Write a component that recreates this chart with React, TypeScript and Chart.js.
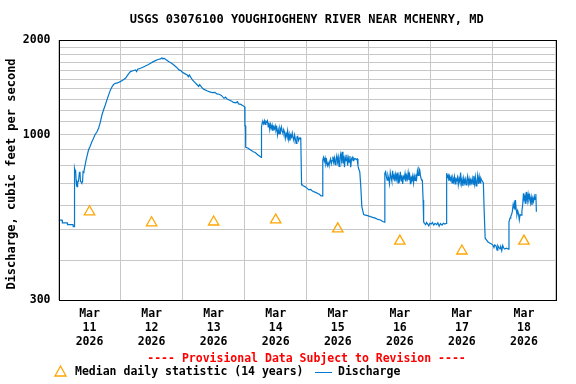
import React, { useEffect, useRef } from "react";
import { Chart, registerables } from "chart.js";

Chart.register(...registerables);

// ---- data ----
const titleText = "USGS 03076100 YOUGHIOGHENY RIVER NEAR MCHENRY, MD";
const yAxisTitle = "Discharge, cubic feet per second";
const provisionalText = "---- Provisional Data Subject to Revision ----";
const medianLabel = "Median daily statistic (14 years)";
const dischargeLabel = "Discharge";

const tickMonth = "Mar";
const tickYear = "2026";
const tickDays = ["11", "12", "13", "14", "15", "16", "17", "18"];

const yGridValues = [300, 400, 500, 600, 700, 800, 900, 1000, 1100, 1200, 1300, 1400, 1500, 1600, 1700, 1800, 1900, 2000];
const yLabeled = [300, 1000, 2000];

// median daily statistic at noon of each day (hours since Mar 11 00:00)
const medianHours = [12, 36, 60, 84, 108, 132, 156, 180];
const medianCfs = [571, 527, 530, 538, 504, 461, 429, 461];

// discharge: [hours since Mar 11 00:00, cfs]
const discharge: [number, number][] = [
  [0, 537], [1.4, 537], [1.5, 527], [3.4, 527], [3.5, 520], [5.6, 520], [5.7, 512], [6.1, 512],
  [6.2, 784], [6.4, 770], [6.6, 776], [6.8, 722], [7.0, 690], [7.2, 686], [7.4, 711], [7.7, 711], [7.9, 711],
  [8.1, 761], [8.3, 765], [8.5, 711], [8.8, 711], [9.0, 706], [9.3, 711], [9.5, 765], [9.8, 762], [10.1, 790],
  [10.3, 803], [10.7, 835], [11.2, 868], [11.6, 896], [12.2, 920], [12.9, 952], [13.5, 975], [14.2, 1005],
  [14.8, 1020], [15.5, 1050], [16.2, 1100], [16.8, 1157], [17.4, 1200], [18.1, 1245], [18.7, 1290], [19.4, 1340],
  [20.0, 1385], [20.7, 1422], [21.3, 1445], [22.0, 1458], [22.8, 1462], [23.9, 1476], [24.8, 1490], [25.9, 1513],
  [26.8, 1550], [27.8, 1588], [28.8, 1598], [29.8, 1608], [30.2, 1590], [30.6, 1615], [31.7, 1627], [32.6, 1640],
  [33.6, 1655], [34.6, 1670], [35.6, 1688], [36.5, 1705], [37.5, 1721], [38.5, 1735], [39.5, 1742], [40.0, 1756],
  [40.4, 1742], [40.8, 1750], [41.5, 1735], [42.7, 1707], [43.6, 1690], [44.6, 1667], [45.6, 1640], [46.6, 1608],
  [47.3, 1600], [47.9, 1581], [48.8, 1565], [49.8, 1549], [50.2, 1530], [50.6, 1550], [51.8, 1494], [52.6, 1470],
  [53.7, 1440], [54.2, 1425], [54.6, 1445], [55.7, 1406], [56.3, 1395], [57.6, 1378], [58.5, 1370], [59.5, 1362],
  [60.5, 1365], [61.2, 1350], [62.1, 1346], [63.0, 1335], [64.0, 1307], [64.6, 1318], [65.2, 1300], [66.0, 1291],
  [67.0, 1280], [67.6, 1268], [68.6, 1265], [69.2, 1275], [69.6, 1255], [70.5, 1250], [71.2, 1240], [72.0, 1229],
  [72.1, 1069], [72.3, 1069], [72.4, 914], [73.2, 910], [74.3, 896], [75.3, 885], [76.1, 880], [77.0, 866],
  [77.7, 858], [78.4, 849],
  [78.5, 1062], [78.8, 1095], [79.0, 1101], [79.3, 1085], [79.6, 1110], [79.9, 1080], [80.2, 1105], [80.5, 1098],
  [80.8, 1110], [81.1, 1060], [81.4, 1095], [81.7, 1040], [82.0, 1080], [82.3, 1050], [82.6, 1075], [82.9, 1030],
  [83.2, 1060], [83.5, 1045], [83.8, 1070], [84.1, 1035], [84.4, 1055], [84.7, 1000], [85.0, 1040], [85.3, 1010],
  [85.6, 1050], [85.9, 1025], [86.2, 1060], [86.5, 1030], [86.8, 1010], [87.1, 1040], [87.4, 1020], [87.7, 975],
  [88.0, 1010], [88.3, 990], [88.6, 1030], [88.9, 970], [89.2, 1005], [89.5, 960], [89.8, 1000], [90.1, 985],
  [90.4, 1015], [90.7, 980], [91.0, 960], [91.3, 1000], [91.6, 970], [91.9, 940], [92.2, 985], [92.5, 990],
  [92.8, 960], [93.1, 975], [93.4, 980], [93.7, 965],
  [94.0, 695], [94.3, 695], [94.6, 690], [95.3, 686], [96.0, 680], [96.8, 670], [97.5, 672], [98.2, 665],
  [98.9, 660], [99.6, 657], [100.3, 652], [100.9, 649], [101.5, 641], [102.1, 641],
  [102.2, 833], [102.5, 850], [102.8, 825], [103.1, 845], [103.4, 810], [103.7, 830], [104.0, 800], [104.3, 815],
  [104.6, 800], [104.9, 825], [105.2, 840], [105.5, 810], [105.8, 830], [106.1, 855], [106.4, 820], [106.7, 845],
  [107.0, 805], [107.3, 838], [107.6, 860], [107.9, 820], [108.2, 850], [108.5, 795], [108.8, 845], [109.1, 870],
  [109.4, 830], [109.7, 885], [110.0, 812], [110.3, 860], [110.6, 790], [110.9, 850], [111.2, 830], [111.5, 865],
  [111.8, 800], [112.1, 845], [112.4, 820], [112.7, 858], [113.0, 790], [113.3, 840], [113.6, 850], [113.9, 830],
  [114.2, 845], [114.5, 838], [114.8, 842], [115.1, 836], [115.5, 840], [115.8, 800], [116.1, 780],
  [116.5, 765], [116.9, 686], [117.3, 593], [118.0, 560], [118.3, 558], [119.5, 555], [120.6, 551], [121.5, 548],
  [122.5, 545], [123.5, 540], [124.5, 538], [125.4, 532], [126.1, 529],
  [126.2, 757], [126.5, 765], [126.8, 738], [127.1, 719], [127.4, 745], [127.7, 728], [128.0, 700], [128.3, 760],
  [128.6, 735], [128.9, 715], [129.2, 770], [129.5, 730], [129.8, 745], [130.1, 712], [130.4, 750], [130.7, 725],
  [131.0, 760], [131.3, 705], [131.6, 740], [131.9, 722], [132.2, 765], [132.5, 715], [132.8, 745], [133.1, 700],
  [133.4, 738], [133.7, 728], [134.0, 755], [134.3, 712], [134.6, 742], [134.9, 725], [135.2, 760], [135.5, 720],
  [135.8, 745], [136.1, 698], [136.4, 735], [136.7, 725], [137.0, 745], [137.3, 705], [137.6, 740], [137.9, 718],
  [138.2, 750], [138.5, 728], [138.8, 770], [139.1, 745], [139.4, 784], [139.7, 775], [140.0, 740], [140.4, 719],
  [140.7, 719],
  [141.0, 622], [141.2, 531], [141.5, 525], [142.0, 520], [142.3, 528], [142.8, 522], [143.2, 515], [143.6, 525],
  [144.2, 522], [144.6, 528], [145.1, 518], [145.6, 525], [146.2, 520], [146.7, 527], [147.2, 514], [147.7, 524],
  [148.3, 518], [148.8, 525], [149.4, 522], [150.0, 525],
  [150.1, 757], [150.4, 735], [150.7, 745], [151.0, 715], [151.3, 740], [151.6, 720], [151.9, 735], [152.2, 705],
  [152.5, 730], [152.8, 712], [153.1, 738], [153.4, 700], [153.7, 725], [154.0, 718], [154.3, 735], [154.6, 695],
  [154.9, 728], [155.2, 710], [155.5, 760], [155.8, 700], [156.1, 722], [156.4, 690], [156.7, 730], [157.0, 705],
  [157.3, 725], [157.6, 695], [157.9, 718], [158.2, 740], [158.5, 700], [158.8, 725], [159.1, 692], [159.4, 720],
  [159.7, 705], [160.0, 728], [160.3, 698], [160.6, 742], [160.9, 700], [161.2, 735], [161.5, 690], [161.8, 712],
  [162.1, 745], [162.4, 700], [162.7, 738], [163.0, 705], [163.3, 730], [163.6, 720], [163.9, 715], [164.3, 705],
  [164.6, 578], [165.0, 471], [165.5, 465], [166.0, 459], [166.7, 455], [167.3, 452], [168.0, 448], [168.4, 440],
  [168.7, 448], [169.2, 445], [169.6, 432], [169.9, 446], [170.3, 440], [170.7, 436], [171.0, 444], [171.4, 430],
  [171.8, 447], [172.2, 438], [172.6, 435], [173.2, 438], [174.0, 435],
  [174.2, 531], [174.6, 545], [174.9, 552], [175.2, 560], [175.5, 572], [175.8, 600], [176.0, 585], [176.3, 605],
  [176.5, 580], [176.7, 622], [177.0, 580], [177.3, 560], [177.6, 575], [177.9, 560], [178.2, 538], [178.5, 560],
  [178.9, 557], [179.2, 575], [179.5, 600], [179.8, 653], [180.1, 622], [180.4, 643], [180.7, 605], [181.0, 660],
  [181.3, 620], [181.6, 650], [181.9, 625], [182.2, 642], [182.5, 610], [182.8, 635], [183.1, 600], [183.4, 630],
  [183.7, 615], [184.0, 640], [184.3, 625], [184.6, 650], [184.8, 571],
];

const LINE_COLOR = "#0478cc";
const MEDIAN_COLOR = "#ffa500";
const GRID_COLOR = "#c8c8c8";
const FONT_FAMILY = "'DejaVu Sans Mono', monospace";

const overlayPlugin = {
  id: "usgsOverlay",
  afterDraw(chart: any) {
    const { ctx, chartArea } = chart;
    const { left, right, top, bottom } = chartArea;
    ctx.save();
    // plot border
    ctx.strokeStyle = "#000";
    ctx.lineWidth = 1;
    ctx.strokeRect(Math.round(left) + 0.5, Math.round(top) + 0.5, Math.round(right - left), Math.round(bottom - top));

    // title
    ctx.fillStyle = "#000";
    ctx.font = `bold 12px ${FONT_FAMILY}`;
    ctx.textAlign = "center";
    ctx.textBaseline = "middle";
    ctx.fillText(titleText, (left + right) / 2, 20);

    // y axis title
    ctx.save();
    ctx.translate(12, 174);
    ctx.rotate(-Math.PI / 2);
    ctx.fillText(yAxisTitle, 0, 0);
    ctx.restore();

    // provisional text
    ctx.font = `bold 11.5px ${FONT_FAMILY}`;
    ctx.fillStyle = "#ff0000";
    ctx.fillText(provisionalText, 306.5, 359);

    // legend
    const ly = 372;
    ctx.strokeStyle = MEDIAN_COLOR;
    ctx.lineWidth = 1.3;
    ctx.beginPath();
    ctx.moveTo(60.5, ly - 6);
    ctx.lineTo(66, ly + 4);
    ctx.lineTo(55, ly + 4);
    ctx.closePath();
    ctx.stroke();
    ctx.fillStyle = "#000";
    ctx.textAlign = "left";
    ctx.fillText(medianLabel, 75, ly);
    ctx.strokeStyle = LINE_COLOR;
    ctx.lineWidth = 1;
    ctx.beginPath();
    ctx.moveTo(315, ly + 0.5);
    ctx.lineTo(332, ly + 0.5);
    ctx.stroke();
    ctx.fillText(dischargeLabel, 338, ly);
    ctx.restore();
  },
};

export default function App() {
  const canvasRef = useRef<HTMLCanvasElement | null>(null);

  useEffect(() => {
    if (!canvasRef.current) return;
    const chart = new Chart(canvasRef.current, {
      type: "line",
      data: {
        datasets: [
          {
            label: dischargeLabel,
            data: discharge.map(([h, v]) => ({ x: h, y: v })),
            borderColor: LINE_COLOR,
            borderWidth: 1.2,
            pointRadius: 0,
            tension: 0,
            fill: false,
          },
          {
            label: medianLabel,
            data: medianHours.map((h, i) => ({ x: h, y: medianCfs[i] })),
            showLine: false,
            pointStyle: "triangle",
            pointRadius: 6,
            borderColor: MEDIAN_COLOR,
            backgroundColor: "rgba(0,0,0,0)",
            pointBorderWidth: 1.3,
          },
        ],
      },
      options: {
        responsive: false,
        animation: false,
        events: [],
        layout: { padding: { top: 40, right: 21, bottom: 0, left: 0 } },
        plugins: {
          legend: { display: false },
          title: { display: false },
          tooltip: { enabled: false },
        },
        scales: {
          x: {
            type: "linear",
            min: 0,
            max: 192,
            afterBuildTicks: (scale: any) => {
              const t = [];
              for (let v = 0; v <= 192; v += 12) t.push({ value: v });
              scale.ticks = t;
            },
            afterFit: (scale: any) => {
              scale.height = 84;
            },
            grid: {
              drawTicks: false,
              color: (c: any) => (c.tick && c.tick.value % 24 === 0 ? GRID_COLOR : "rgba(0,0,0,0)"),
              lineWidth: 1,
            },
            border: { display: false },
            ticks: {
              autoSkip: false,
              maxRotation: 0,
              padding: 7,
              color: "#000",
              font: { family: FONT_FAMILY, size: 11.5, weight: "bold", lineHeight: 1.22 },
              callback: (value: any) => {
                const v = Number(value);
                if (v % 24 !== 12) return "";
                const d = tickDays[Math.floor(v / 24)];
                return [tickMonth, d, tickYear];
              },
            },
          },
          y: {
            type: "logarithmic",
            min: 300,
            max: 2000,
            afterBuildTicks: (scale: any) => {
              scale.ticks = yGridValues.map((v) => ({ value: v }));
            },
            afterFit: (scale: any) => {
              scale.width = 58.5;
            },
            grid: { drawTicks: false, color: GRID_COLOR, lineWidth: 1 },
            border: { display: false },
            ticks: {
              autoSkip: false,
              padding: 8,
              color: "#000",
              font: { family: FONT_FAMILY, size: 11.5, weight: "bold" },
              callback: (value: any) => (yLabeled.includes(Number(value)) ? String(value) : ""),
            },
          },
        },
      },
      plugins: [overlayPlugin],
    } as any);
    return () => chart.destroy();
  }, []);

  return (
    <div style={{ position: "absolute", left: 0, top: 0, width: 576, height: 384, background: "#fff" }}>
      <canvas ref={canvasRef} width={576} height={384} style={{ width: 576, height: 384 }} />
    </div>
  );
}
